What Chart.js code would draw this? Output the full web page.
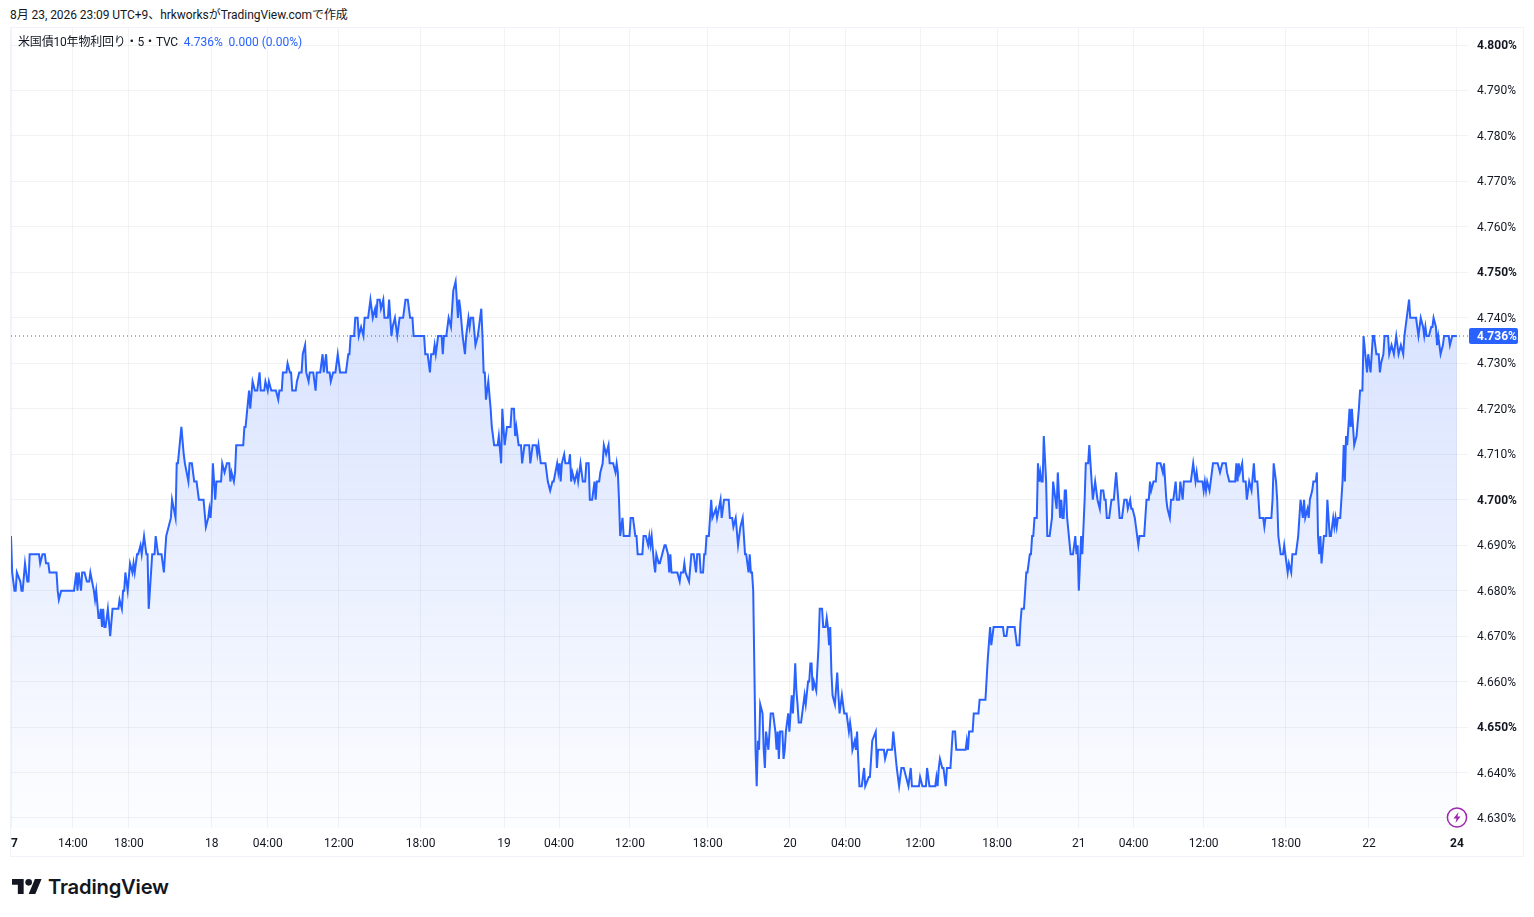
<!DOCTYPE html>
<html lang="ja">
<head>
  <meta charset="UTF-8" />
  <title>米国債10年物利回り</title>
  <script src="https://cdn.jsdelivr.net/npm/chart.js"></script>
  <style>
    html, body { margin: 0; background: #fff; overflow: hidden; }
    body { font-family: Roboto, "Noto Sans CJK JP", sans-serif; color: #131722; width: 1534px; height: 917px; position: relative; }
    #caption { position: absolute; left: 10px; top: 7px; font-size: 12px; line-height: 16px; white-space: nowrap; letter-spacing: -0.055px; }
    #frame { position: absolute; left: 10px; top: 27px; width: 1512px; height: 828px; border: 1px solid #f0f3fa; }
    #legend { position: absolute; left: 18px; top: 34px; font-size: 12px; line-height: 16px; white-space: nowrap; letter-spacing: -0.18px; }
    #legend .v { color: #2962ff; margin-left: 3px; letter-spacing: 0; }
    #bolt { position: absolute; left: 1445px; top: 806px; }
    #brand { position: absolute; left: 12px; top: 873px; display: flex; align-items: center; height: 26px; }
    #brand span { font: 600 20.2px Inter, Roboto, sans-serif; margin-left: 6px; letter-spacing: -0.2px; }
  </style>
</head>
<body>
  <div id="caption">8月 23, 2026 23:09 UTC+9、hrkworksがTradingView.comで作成</div>
  <div id="frame"><canvas id="yieldChart" width="1512" height="828"></canvas></div>
  <div id="legend">米国債10年物利回り・5・TVC <span class="v">4.736%</span> <span class="v">0.000 (0.00%)</span></div>
  <svg id="bolt" width="24" height="24" viewBox="0 0 24 24">
    <circle cx="12" cy="11.5" r="9.6" fill="#fff" stroke="#9c27b0" stroke-width="1.5"/>
    <path d="M13.5 6 8.5 12.5h3l-1 4.5 5-6.500h-3z" fill="#9c27b0"/>
  </svg>
  <div id="brand">
    <svg width="30" height="15" viewBox="0 4 36 18"><path d="M14 22H7V11H0V4h14v18zM28 22h-8l7.500-18h8L28 22z" fill="#131722"/><circle cx="20" cy="8" r="4" fill="#131722"/></svg>
    <span>TradingView</span>
  </div>

  <script>
    // 5 minute bars, only the bars where the line turns
    const bars17 = [0,1,3,4,5,8,9,10,12,14,15,16,24,25,27,29,30,32,33,39,40,41,43,54,56,57,58,60,61,63,65,67,68,71,72,73,75,76,77,78,79,80,81,83,85,87,92,93,95,96,97,98,100,102,104,105,106,108,109,111,112,114,116,117,118,121,123,124,126,129,131,132,133,135,137,138,141,142,143,146,148,149,152,153,155,157,159,161,165,167,169,170,171,172];
    const yields17 = [4.692,4.684,4.680,4.680,4.684,4.682,4.680,4.680,4.686,4.682,4.682,4.688,4.688,4.686,4.688,4.688,4.686,4.686,4.684,4.684,4.680,4.678,4.680,4.680,4.684,4.680,4.684,4.680,4.684,4.684,4.682,4.682,4.684,4.680,4.678,4.680,4.674,4.674,4.676,4.672,4.676,4.672,4.672,4.676,4.670,4.676,4.676,4.678,4.676,4.680,4.680,4.684,4.680,4.686,4.684,4.686,4.684,4.688,4.688,4.690,4.688,4.692,4.688,4.688,4.676,4.688,4.688,4.692,4.688,4.688,4.684,4.688,4.692,4.694,4.696,4.700,4.696,4.708,4.708,4.716,4.710,4.708,4.704,4.708,4.708,4.704,4.704,4.700,4.700,4.694,4.696,4.698,4.696,4.700];

    const bars18 = [173,175,176,180,181,183,185,187,188,189,191,192,193,199,200,201,204,205,207,209,211,213,214,217,218,220,221,223,227,229,230,232,233,236,237,239,240,241,244,245,247,249,250,252,253,255,256,259,261,262,265,267,268,270,271,273,274,276,278,280,282,287,289,290,291,294,295,297,298,300,302,303,306,308,310,312,313,314,316,317,319,320,323,324,326,327,329,331,333,336,338,340,342,344,345,354,355,357,359,360,362,363,364,366,369,370,371,373,375,377,379,381,383,384,385,387,389,390,392,393,394,396,398,400,403,404,405,406,407,409,411,412,414,417,418,420,421];
    const yields18 = [4.708,4.700,4.704,4.704,4.708,4.706,4.708,4.708,4.704,4.706,4.704,4.706,4.712,4.712,4.716,4.716,4.724,4.720,4.726,4.724,4.724,4.728,4.724,4.724,4.726,4.724,4.726,4.724,4.724,4.722,4.724,4.724,4.728,4.728,4.730,4.728,4.728,4.724,4.724,4.726,4.728,4.728,4.732,4.734,4.728,4.726,4.728,4.728,4.724,4.728,4.728,4.732,4.728,4.732,4.728,4.728,4.726,4.728,4.728,4.732,4.728,4.728,4.732,4.732,4.736,4.736,4.740,4.740,4.736,4.738,4.736,4.740,4.740,4.744,4.740,4.742,4.740,4.744,4.744,4.742,4.744,4.740,4.740,4.744,4.736,4.738,4.740,4.736,4.740,4.740,4.744,4.744,4.740,4.740,4.736,4.736,4.732,4.732,4.728,4.732,4.732,4.734,4.732,4.736,4.736,4.732,4.736,4.736,4.740,4.738,4.746,4.748,4.740,4.744,4.742,4.736,4.732,4.736,4.740,4.738,4.740,4.740,4.734,4.736,4.742,4.736,4.728,4.728,4.722,4.726,4.720,4.716,4.712,4.712,4.714,4.708,4.720];

    const bars19 = [423,425,428,429,431,432,433,435,437,438,440,444,445,447,450,451,452,454,458,460,462,464,465,468,469,470,471,472,474,475,478,479,480,481,483,485,486,488,490,492,493,495,496,498,500,501,502,504,505,507,508,510,512,513,516,518,519,520,521,522,524,525,530,531,533,535,536,537,541,542,544,546,547,548,549,551,552,553,555,556,558,560,561,563,564,565,566,571,573,574,576,577,578,581,583,585,587,588,590,591,593,594,595,596,598,600,601,604,605,608,609,611,615,616,618,619,621,623,625,627,629,630,632,633,634,635,636,638,639,640,641,642,644,645,646,647,649,650,651,653,655,656,657,658,659,661,662,663,664,666,667];
    const yields19 = [4.712,4.716,4.716,4.720,4.720,4.714,4.716,4.712,4.712,4.708,4.712,4.712,4.708,4.712,4.712,4.710,4.712,4.708,4.708,4.704,4.702,4.704,4.704,4.708,4.706,4.708,4.704,4.708,4.710,4.708,4.708,4.710,4.704,4.706,4.704,4.706,4.704,4.708,4.704,4.704,4.708,4.708,4.700,4.700,4.704,4.700,4.704,4.704,4.706,4.708,4.712,4.710,4.712,4.708,4.708,4.706,4.708,4.706,4.700,4.692,4.696,4.692,4.692,4.696,4.696,4.692,4.692,4.688,4.688,4.692,4.692,4.690,4.692,4.690,4.692,4.686,4.684,4.688,4.686,4.686,4.688,4.690,4.690,4.688,4.684,4.688,4.684,4.684,4.682,4.684,4.684,4.686,4.684,4.682,4.688,4.688,4.684,4.688,4.688,4.684,4.684,4.688,4.688,4.692,4.692,4.700,4.696,4.698,4.696,4.700,4.696,4.700,4.700,4.696,4.696,4.694,4.696,4.690,4.694,4.696,4.688,4.688,4.684,4.688,4.684,4.684,4.680,4.645,4.637,4.647,4.645,4.655,4.653,4.645,4.641,4.649,4.645,4.649,4.653,4.653,4.649,4.645,4.649,4.643,4.649,4.649,4.643,4.645,4.649,4.653,4.649];

    const bars20 = [669,670,671,672,673,674,675,677,678,680,681,683,684,685,686,687,688,690,692,693,695,696,698,699,700,701,702,703,704,706,708,709,710,712,714,716,718,719,720,721,723,724,725,727,729,731,732,735,736,738,741,742,743,748,749,751,755,756,759,761,763,765,767,769,771,772,778,779,781,784,785,787,792,793,794,795,796,798,799,801,802,805,806,807,809,810,818,819,820,821,824,825,829,830,835,837,839,840,842,850,851,853,854,860,862,864,865,866,868,870,871,873,874,875,876,877,879,880,881,882,883,884,885,887,888,890,892,893,895,896,897,899,900,901,902,903,904,905,908,910,912,913,914,915];
    const yields20 = [4.657,4.653,4.658,4.664,4.658,4.655,4.651,4.651,4.653,4.657,4.655,4.660,4.660,4.664,4.664,4.658,4.660,4.658,4.668,4.676,4.676,4.672,4.672,4.674,4.672,4.668,4.672,4.662,4.657,4.655,4.662,4.657,4.653,4.657,4.653,4.653,4.649,4.651,4.649,4.645,4.647,4.645,4.649,4.637,4.637,4.641,4.637,4.639,4.639,4.647,4.649,4.641,4.645,4.645,4.643,4.645,4.645,4.649,4.641,4.637,4.641,4.641,4.639,4.637,4.641,4.637,4.637,4.639,4.637,4.637,4.641,4.637,4.637,4.639,4.637,4.641,4.643,4.641,4.641,4.637,4.641,4.641,4.645,4.649,4.649,4.645,4.645,4.647,4.645,4.649,4.649,4.653,4.653,4.656,4.656,4.665,4.672,4.668,4.672,4.672,4.670,4.670,4.672,4.672,4.668,4.668,4.673,4.676,4.676,4.684,4.684,4.688,4.688,4.692,4.692,4.696,4.696,4.708,4.704,4.706,4.704,4.704,4.714,4.704,4.692,4.692,4.696,4.704,4.700,4.698,4.706,4.696,4.700,4.696,4.696,4.702,4.702,4.696,4.688,4.688,4.692,4.688,4.690,4.680];

    const bars21 = [917,918,920,921,923,924,927,929,931,933,934,936,937,938,939,941,943,945,947,950,952,954,956,957,959,960,961,963,966,967,971,973,975,976,977,979,981,982,985,987,988,990,991,993,994,996,998,999,1001,1002,1004,1005,1011,1013,1015,1016,1017,1021,1022,1023,1024,1025,1027,1028,1030,1034,1036,1038,1041,1042,1044,1049,1050,1051,1052,1053,1055,1056,1058,1059,1061,1063,1065,1066,1068,1069,1070,1073,1074,1075,1080,1081,1082,1084,1085,1086,1088,1090,1091,1092,1094,1095,1097,1098,1101,1103,1104,1105,1107,1108,1109,1111,1112,1113,1115,1116,1118,1119,1120,1121,1122,1123,1125,1127,1128,1130,1131,1133,1134,1135,1136,1137,1139,1141,1142,1143,1144,1145,1147,1148,1149,1150,1151,1153,1155,1156,1158,1159,1162,1163];
    const yields21 = [4.692,4.688,4.700,4.708,4.708,4.712,4.700,4.704,4.700,4.698,4.702,4.702,4.700,4.700,4.696,4.696,4.700,4.700,4.706,4.696,4.696,4.700,4.700,4.698,4.700,4.698,4.698,4.696,4.690,4.692,4.692,4.700,4.700,4.704,4.702,4.704,4.704,4.708,4.708,4.706,4.708,4.700,4.698,4.696,4.700,4.700,4.704,4.700,4.700,4.704,4.700,4.704,4.704,4.708,4.704,4.706,4.704,4.704,4.702,4.704,4.702,4.704,4.702,4.704,4.708,4.708,4.706,4.708,4.708,4.706,4.704,4.704,4.708,4.704,4.708,4.706,4.708,4.704,4.704,4.700,4.704,4.702,4.708,4.704,4.704,4.700,4.696,4.696,4.694,4.696,4.696,4.700,4.708,4.704,4.700,4.692,4.688,4.688,4.690,4.688,4.684,4.686,4.684,4.688,4.688,4.692,4.696,4.700,4.696,4.700,4.696,4.698,4.696,4.700,4.702,4.704,4.704,4.706,4.692,4.688,4.692,4.686,4.692,4.692,4.700,4.692,4.692,4.696,4.694,4.696,4.694,4.696,4.696,4.704,4.712,4.704,4.714,4.712,4.720,4.716,4.720,4.716,4.712,4.714,4.720,4.724,4.724,4.736,4.728,4.732];

    const bars22 = [1165,1167,1168,1170,1172,1173,1174,1176,1177,1180,1181,1183,1185,1187,1189,1191,1193,1194,1196,1198,1199,1204,1206,1208,1210,1211,1212,1213,1215,1217,1218,1219,1221,1222,1223,1225,1227,1228,1232,1233,1235,1239];
    const yields22 = [4.728,4.736,4.736,4.732,4.732,4.728,4.730,4.732,4.736,4.736,4.732,4.734,4.732,4.736,4.732,4.734,4.732,4.736,4.740,4.744,4.740,4.740,4.736,4.740,4.738,4.736,4.738,4.736,4.736,4.738,4.738,4.740,4.738,4.734,4.736,4.732,4.734,4.736,4.736,4.734,4.736,4.736];

    const bars = [...bars17, ...bars18, ...bars19, ...bars20, ...bars21, ...bars22];
    const yields = [...yields17, ...yields18, ...yields19, ...yields20, ...yields21, ...yields22];

    const timeTickBars = [0,53,101,172,220,281,351,422.5,469.6,530.4,597,667.5,715.5,779,845,915,962,1022,1092.5,1163.6,1239];
    const timeTickLabels = ['17','14:00','18:00','18','04:00','12:00','18:00','19','04:00','12:00','18:00','20','04:00','12:00','18:00','21','04:00','12:00','18:00','22','24'];
    const boldTimeTicks = ['17','24'];
    const priceTicks = [4.63,4.64,4.65,4.66,4.67,4.68,4.69,4.70,4.71,4.72,4.73,4.74,4.75,4.76,4.77,4.78,4.79,4.80];
    const boldPriceTicks = [4.65,4.70,4.75,4.80];
    const lastPrice = 4.736;
    const lastBarEdge = 1248.5;

    const fontFamily = 'Roboto, "Noto Sans CJK JP", sans-serif';
    const gridColor = 'rgba(42,46,57,0.06)';

    // price tag on the axis, same place as the last value
    const lastPriceTag = {
      id: 'lastPriceTag',
      afterDraw(chart) {
        const ctx = chart.ctx;
        const y = chart.scales.y.getPixelForValue(lastPrice);
        const x = chart.chartArea.right + 1;
        ctx.save();
        ctx.fillStyle = '#2962ff';
        ctx.beginPath();
        ctx.roundRect(x, y - 8, 49, 16, 2);
        ctx.fill();
        ctx.fillStyle = '#fff';
        ctx.font = '700 12px ' + fontFamily;
        ctx.textBaseline = 'middle';
        ctx.fillText(lastPrice.toFixed(3) + '%', x + 8, y + 0.5);
        ctx.restore();
      }
    };

    new Chart(document.getElementById('yieldChart'), {
      type: 'line',
      plugins: [lastPriceTag],
      data: {
        datasets: [
          {
            data: bars.map((b, i) => ({ x: b, y: yields[i] })),
            borderColor: '#2962ff',
            borderWidth: 2,
            pointRadius: 0,
            tension: 0,
            fill: 'start',
            backgroundColor(context) {
              const { chart } = context;
              if (!chart.chartArea) return 'transparent';
              const top = chart.scales.y.getPixelForValue(Math.max(...yields));
              const g = chart.ctx.createLinearGradient(0, top, 0, chart.chartArea.bottom);
              g.addColorStop(0, 'rgba(41,98,255,0.19)');
              g.addColorStop(1, 'rgba(41,98,255,0.01)');
              return g;
            }
          },
          {
            data: [{ x: 0, y: lastPrice }, { x: lastBarEdge, y: lastPrice }],
            borderColor: '#2962ff',
            borderWidth: 1,
            borderDash: [1, 3],
            pointRadius: 0,
            fill: false
          }
        ]
      },
      options: {
        responsive: false,
        animation: false,
        parsing: false,
        normalized: true,
        layout: { padding: 0 },
        plugins: { legend: { display: false }, tooltip: { enabled: false } },
        scales: {
          x: {
            type: 'linear',
            min: 0,
            max: lastBarEdge,
            afterBuildTicks(scale) { scale.ticks = timeTickBars.map(v => ({ value: v })); },
            // no room kept for the half label at the ends, "17" gets cut by the canvas edge like the original
            afterFit(scale) { scale.height = 28; scale.paddingLeft = 0; scale.paddingRight = 0; },
            grid: { color: gridColor, drawTicks: false },
            border: { display: false },
            ticks: {
              autoSkip: false,
              maxRotation: 0,
              padding: 9,
              color: '#131722',
              font: ctx => ({
                family: fontFamily,
                size: 12,
                weight: boldTimeTicks.includes(timeTickLabels[ctx.index]) ? '700' : '400'
              }),
              callback(value, i) { return timeTickLabels[i]; }
            }
          },
          y: {
            position: 'right',
            min: 4.6278,
            max: 4.80374,
            afterBuildTicks(scale) { scale.ticks = priceTicks.map(v => ({ value: v })); },
            afterFit(scale) { scale.width = 55; scale.paddingTop = 0; scale.paddingBottom = 0; },
            grid: { color: gridColor, drawTicks: false },
            border: { display: false },
            ticks: {
              autoSkip: false,
              padding: 9,
              labelOffset: 1,
              color: '#131722',
              font: ctx => ({
                family: fontFamily,
                size: 12,
                weight: boldPriceTicks.includes(priceTicks[ctx.index]) ? '700' : '400'
              }),
              callback(value) { return value.toFixed(3) + '%'; }
            }
          }
        }
      }
    });
  </script>
</body>
</html>
